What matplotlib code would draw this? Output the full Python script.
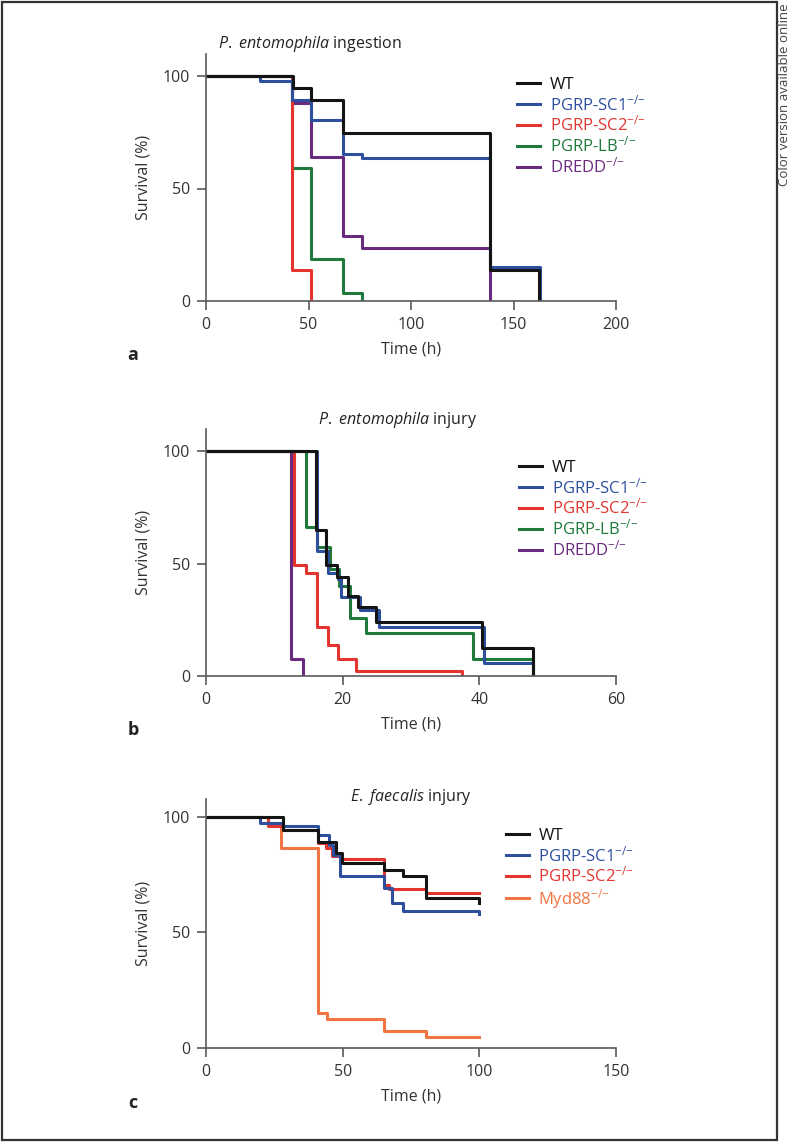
import matplotlib
matplotlib.use('Agg')
import matplotlib.pyplot as plt
from matplotlib.patches import Rectangle

W, H = 792, 1142

# colours
c_wt = '#141414'
c_sc1 = '#2d4f9e'
c_sc2 = '#e3342f'
c_lb = '#1f7a3c'
c_dredd = '#6a2a7e'
c_myd = '#f07543'

# ---- panel a: P. entomophila ingestion
a_wt_t = [0, 42.3, 51, 66.7, 138.5, 162.6]
a_wt_v = [100, 94.5, 89.3, 74.5, 13.8, 0]
a_sc1_t = [0, 26.3, 41.8, 51, 66.7, 76, 138.5, 163]
a_sc1_v = [100, 97.9, 89.3, 80.4, 65.3, 63.7, 15.3, 0]
a_sc2_t = [0, 42, 51]
a_sc2_v = [100, 13.8, 0]
a_lb_t = [0, 42, 51, 66.7, 76]
a_lb_v = [100, 59.3, 18.5, 3.4, 0]
a_dredd_t = [0, 42, 51, 66.7, 76, 138.5]
a_dredd_v = [100, 88, 64.1, 28.9, 23.7, 0]

# ---- panel b: P. entomophila injury
b_wt_t = [0, 16.1, 17.6, 19.2, 20.8, 22.3, 24.9, 40.4, 47.8]
b_wt_v = [100, 64.9, 49.3, 44.1, 35.6, 30.8, 24.1, 12.3, 0]
b_sc1_t = [0, 16.3, 17.9, 19.3, 19.8, 22.5, 25.3, 40.7, 47.8]
b_sc1_v = [100, 55.7, 45.6, 43.0, 35.3, 29.3, 21.9, 5.9, 0]
b_sc2_t = [0, 12.9, 14.6, 16.3, 17.8, 19.3, 21.9, 37.5]
b_sc2_v = [100, 49.3, 45.9, 21.9, 13.8, 7.4, 2.4, 0]
b_lb_t = [0, 14.6, 16.3, 18.1, 19.5, 21, 23.4, 39, 47.8]
b_lb_v = [100, 66.4, 57.5, 47.4, 40, 25.6, 19, 7.7, 0]
b_dredd_t = [0, 12.5, 14.2]
b_dredd_v = [100, 7.4, 0]

# ---- panel c: E. faecalis injury
c_wt_t = [0, 28, 41.1, 47.4, 49.6, 65.1, 71.9, 80.4, 100]
c_wt_v = [100, 94.4, 89.3, 84.6, 79.9, 77.1, 74.5, 64.8, 62.8]
c_sc1_t = [0, 19.8, 28, 41.1, 45, 46.6, 49.1, 65.1, 67.9, 71.9, 100]
c_sc1_v = [100, 97.5, 96.1, 92.2, 88, 83.5, 74.5, 69.1, 62.9, 59.5, 57.8]
c_sc2_t = [0, 22.6, 28, 41.1, 44, 46.2, 49.6, 65.1, 66.8, 80.4, 100]
c_sc2_v = [100, 96.1, 94.4, 88.9, 86.5, 83.2, 81.7, 70.6, 68.7, 67, 67]
c_myd_t = [0, 22.6, 27.6, 40.8, 44.1, 65.1, 80.4, 100]
c_myd_v = [100, 97, 86.7, 15, 12.4, 7.5, 4.9, 4.9]

sup = r'$^{\mathregular{{-}/{-}}}$'

plt.rcParams['font.family'] = ['Open Sans', 'DejaVu Sans']
plt.rcParams['mathtext.fontset'] = 'custom'
plt.rcParams['mathtext.rm'] = 'Open Sans'
plt.rcParams['mathtext.it'] = 'Open Sans:italic'
plt.rcParams['font.size'] = 11.5

fig = plt.figure(figsize=(W / 100, H / 100), dpi=100)


def fx(px):
    return px / W


def fy(py):
    return 1 - py / H


def make_axes(top_px, bottom_px):
    ax = fig.add_axes([fx(206), fy(bottom_px), fx(616) - fx(206),
                       fy(top_px) - fy(bottom_px)])
    for s in ['top', 'right']:
        ax.spines[s].set_visible(False)
    for s in ['left', 'bottom']:
        ax.spines[s].set_color('#5a5a5a')
        ax.spines[s].set_linewidth(1.2)
    ax.tick_params(direction='out', length=6.5, width=1.2, color='#5a5a5a',
                   labelcolor='#333333', labelsize=11.5, pad=5)
    ax.set_ylabel('Survival (%)', color='#333333', fontsize=11.5, labelpad=8)
    ax.set_xlabel('Time (h)', color='#333333', fontsize=11.5, labelpad=6)
    ax.set_yticks([0, 50, 100])
    ax.margins(0)
    return ax


def add_legend(ax, handles, labels, x_px, y_px):
    ax.legend(handles, labels, loc='upper left',
              bbox_to_anchor=(fx(x_px), fy(y_px)), bbox_transform=fig.transFigure,
              frameon=False, borderpad=0, borderaxespad=0, handlelength=1.35,
              handletextpad=0.6, labelspacing=0.06, labelcolor='linecolor',
              fontsize=12)


lw = 2.2

# panel a
ax = make_axes(53.5, 301)
lines = {}
lines['dredd'], = ax.step(a_dredd_t, a_dredd_v, where='post', color=c_dredd, lw=lw)
lines['lb'], = ax.step(a_lb_t, a_lb_v, where='post', color=c_lb, lw=lw)
lines['sc2'], = ax.step(a_sc2_t, a_sc2_v, where='post', color=c_sc2, lw=lw)
lines['sc1'], = ax.step(a_sc1_t, a_sc1_v, where='post', color=c_sc1, lw=lw)
lines['wt'], = ax.step(a_wt_t, a_wt_v, where='post', color=c_wt, lw=lw)
ax.set_xlim(0, 200)
ax.set_ylim(0, 110)
ax.set_xticks([0, 50, 100, 150, 200])
add_legend(ax, [lines[k] for k in ['wt', 'sc1', 'sc2', 'lb', 'dredd']],
           ['WT', 'PGRP-SC1' + sup, 'PGRP-SC2' + sup, 'PGRP-LB' + sup, 'DREDD' + sup],
           517, 77)
fig.text(fx(310), fy(44), r'$\mathit{P.\ entomophila}$ ingestion', ha='center',
         va='center', fontsize=11.5, color='#222222')
fig.text(fx(133), fy(355), 'a', fontweight='bold', fontsize=13, ha='center',
         va='center', color='#222222')

# panel b
ax = make_axes(428.5, 676)
lines = {}
lines['dredd'], = ax.step(b_dredd_t, b_dredd_v, where='post', color=c_dredd, lw=lw)
lines['lb'], = ax.step(b_lb_t, b_lb_v, where='post', color=c_lb, lw=lw)
lines['sc2'], = ax.step(b_sc2_t, b_sc2_v, where='post', color=c_sc2, lw=lw)
lines['sc1'], = ax.step(b_sc1_t, b_sc1_v, where='post', color=c_sc1, lw=lw)
lines['wt'], = ax.step(b_wt_t, b_wt_v, where='post', color=c_wt, lw=lw)
ax.set_xlim(0, 60)
ax.set_ylim(0, 110)
ax.set_xticks([0, 20, 40, 60])
add_legend(ax, [lines[k] for k in ['wt', 'sc1', 'sc2', 'lb', 'dredd']],
           ['WT', 'PGRP-SC1' + sup, 'PGRP-SC2' + sup, 'PGRP-LB' + sup, 'DREDD' + sup],
           519, 460)
fig.text(fx(398), fy(420), r'$\mathit{P.\ entomophila}$ injury', ha='center',
         va='center', fontsize=11.5, color='#222222')
fig.text(fx(133), fy(730), 'b', fontweight='bold', fontsize=13, ha='center',
         va='center', color='#222222')

# panel c
ax = make_axes(798.5, 1048)
lines = {}
lines['myd'], = ax.step(c_myd_t, c_myd_v, where='post', color=c_myd, lw=lw)
lines['sc2'], = ax.step(c_sc2_t, c_sc2_v, where='post', color=c_sc2, lw=lw)
lines['sc1'], = ax.step(c_sc1_t, c_sc1_v, where='post', color=c_sc1, lw=lw)
lines['wt'], = ax.step(c_wt_t, c_wt_v, where='post', color=c_wt, lw=lw)
ax.set_xlim(0, 150)
ax.set_ylim(0, 108)
ax.set_xticks([0, 50, 100, 150])
add_legend(ax, [lines[k] for k in ['wt', 'sc1', 'sc2', 'myd']],
           ['WT', 'PGRP-SC1' + sup, 'PGRP-SC2' + sup, 'Myd88' + sup],
           506, 828)
fig.text(fx(411), fy(797), r'$\mathit{E.\ faecalis}$ injury', ha='center',
         va='center', fontsize=11.5, color='#222222')
fig.text(fx(133), fy(1103), 'c', fontweight='bold', fontsize=13, ha='center',
         va='center', color='#222222')

# frame and side note
fig.patches.append(Rectangle((fx(1.5), fy(1140)), fx(777) - fx(1.5), fy(1.5) - fy(1140),
                             transform=fig.transFigure, fill=False,
                             edgecolor='#333333', linewidth=1.6))
fig.text(fx(785), fy(3), 'Color version available online', rotation=90,
         ha='center', va='top', fontsize=9.5, color='#444444')

fig.savefig('out.png', dpi=100)
